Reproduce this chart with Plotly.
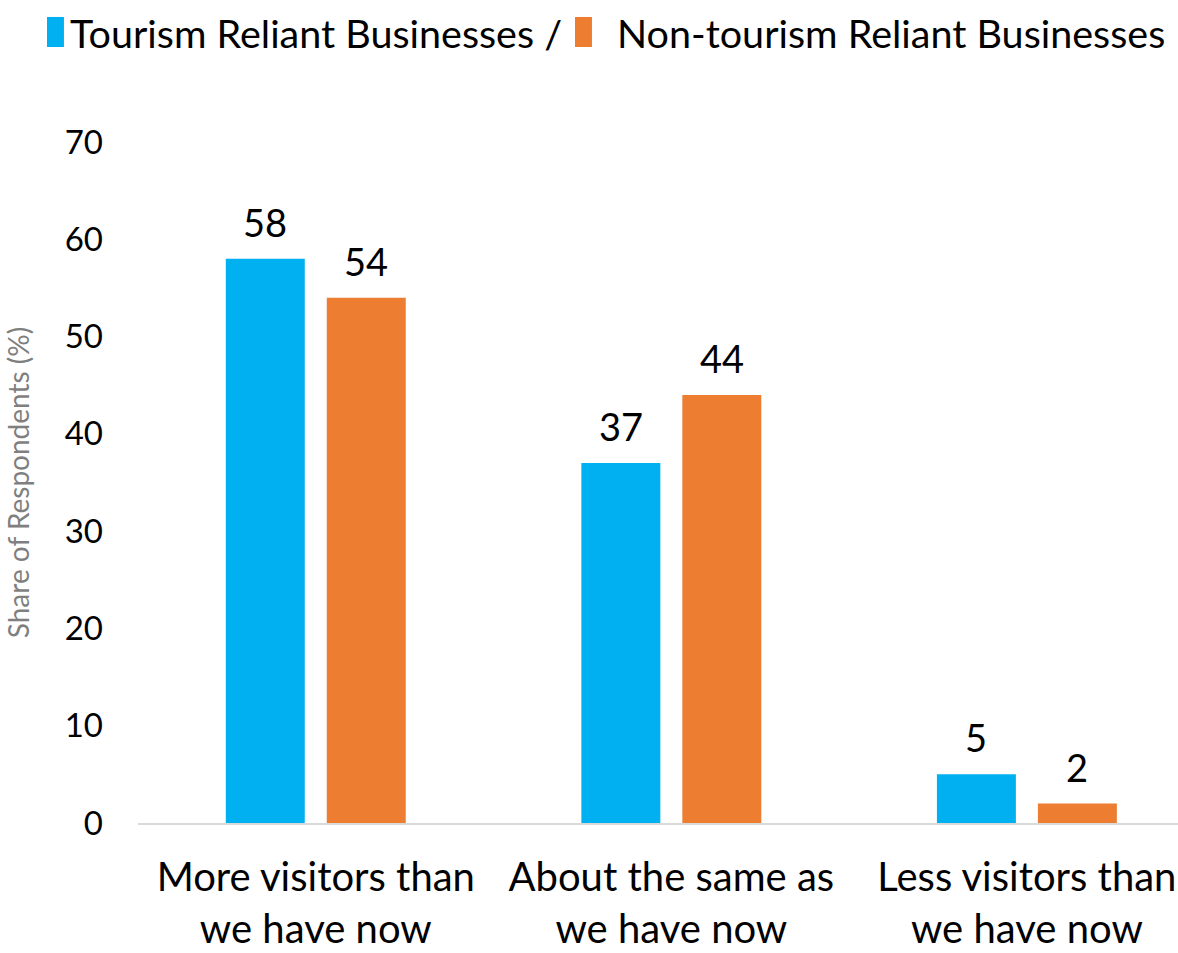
import plotly.graph_objects as go

categories = ["More visitors than<br>we have now",
              "About the same as<br>we have now",
              "Less visitors than<br>we have now"]
tourism_reliant = [58, 37, 5]
non_tourism_reliant = [54, 44, 2]
series_names = ["Tourism Reliant Businesses /", "Non-tourism Reliant Businesses"]
series_colors = ["#00B0F0", "#ED7D31"]
y_ticks = [0, 10, 20, 30, 40, 50, 60, 70]

FONT = "Lato"
BAR_OFFSET_PX = 50.5  # half the distance between paired bar centres

fig = go.Figure()
annotations = []
for k, (name, vals, color) in enumerate(zip(series_names, [tourism_reliant, non_tourism_reliant], series_colors)):
    fig.add_trace(go.Bar(
        x=categories, y=vals, name=name,
        marker=dict(color=color, line=dict(width=0)),
        showlegend=False,
    ))
    # value labels above each bar
    for cat, v in zip(categories, vals):
        annotations.append(dict(
            x=cat, y=v, xref="x", yref="y", text=str(v), showarrow=False,
            xanchor="center", yanchor="bottom",
            xshift=(-1 if k == 0 else 1) * BAR_OFFSET_PX, yshift=12,
            font=dict(family=FONT, size=38, color="#000000"),
        ))

# legend drawn as tall swatches with labels along the top
legend_items = [(-0.0875, -0.0673), (0.4202, 0.4587)]
shapes = []
for (x0, tx), name, color in zip(legend_items, series_names, series_colors):
    shapes.append(dict(type="rect", xref="paper", yref="paper",
                       x0=x0, x1=x0 + 0.0163, y0=1.1395, y1=1.1836,
                       fillcolor=color, line=dict(width=0), layer="above"))
    annotations.append(dict(xref="paper", yref="paper", x=tx, y=1.1615,
                            xanchor="left", yanchor="middle", showarrow=False,
                            text=name, font=dict(family=FONT, size=39.5, color="#000000")))

fig.update_layout(
    width=1178, height=953,
    margin=dict(l=138, r=0, t=142, b=130),
    paper_bgcolor="white", plot_bgcolor="white",
    barmode="group", bargap=0.432, bargroupgap=0.218,
    shapes=shapes, annotations=annotations,
    font=dict(family=FONT, color="#000000"),
)
fig.update_xaxes(
    range=[-0.5, 2.425], showgrid=False, showline=True, linecolor="#D9D9D9", linewidth=2,
    ticks="", tickfont=dict(family=FONT, size=40, color="#000000"),
    ticklabelstandoff=18, automargin=False,
)
fig.update_yaxes(
    range=[0, 70], tickvals=y_ticks, showgrid=False, zeroline=False, showline=False,
    ticks="", tickfont=dict(family=FONT, size=33, color="#000000"),
    ticklabelstandoff=34, automargin=False,
    title=dict(text="Share of Respondents (%)", font=dict(family=FONT, size=28, color="#7F7F7F"),
               standoff=26),
)

fig.write_html("out.html")
